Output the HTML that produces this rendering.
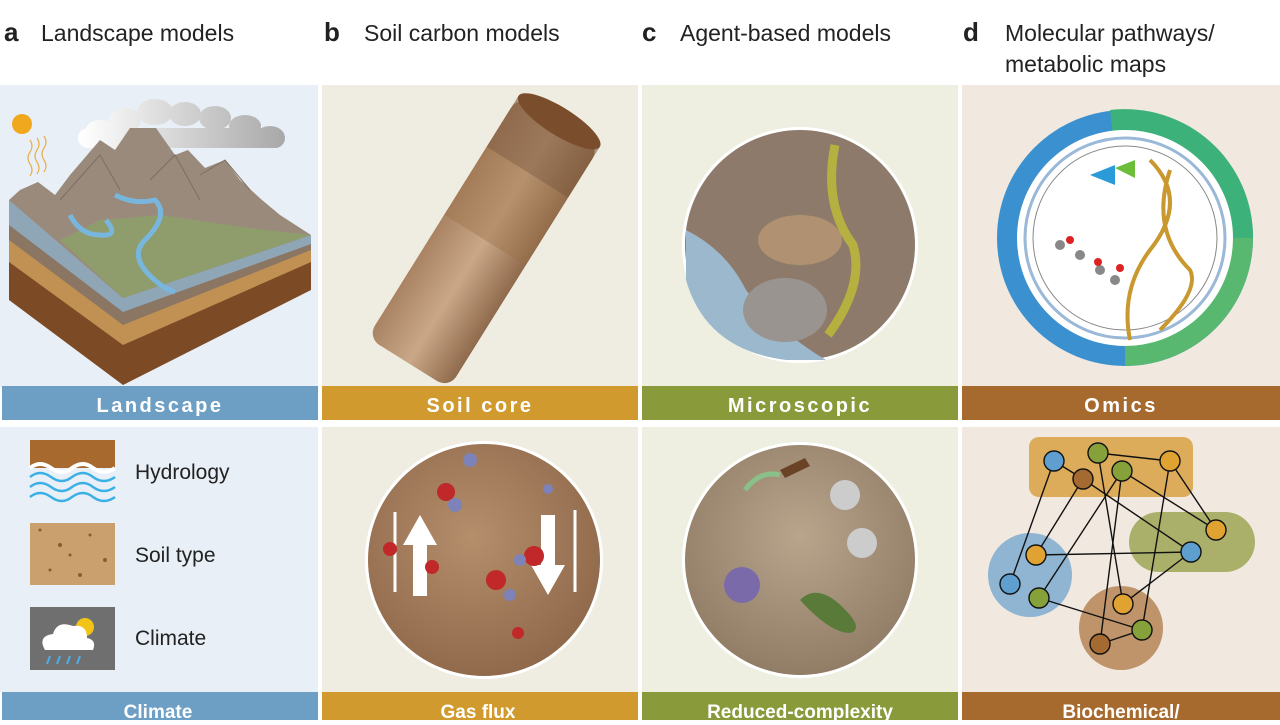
<!DOCTYPE html>
<html><head><meta charset="utf-8">
<style>
body{margin:0;width:1280px;height:720px;overflow:hidden;background:#fff;font-family:"Liberation Sans",sans-serif;}
</style></head><body>
<svg width="1280" height="720" viewBox="0 0 1280 720" xmlns="http://www.w3.org/2000/svg" font-family="Liberation Sans, sans-serif">
<defs>
<radialGradient id="soilg" cx="0.45" cy="0.4" r="0.7"><stop offset="0" stop-color="#b58e6c"/><stop offset="1" stop-color="#8a6446"/></radialGradient>
<radialGradient id="micg" cx="0.5" cy="0.4" r="0.7"><stop offset="0" stop-color="#b8a58c"/><stop offset="1" stop-color="#8b7660"/></radialGradient>
<linearGradient id="coreg" x1="0" y1="0" x2="1" y2="0"><stop offset="0" stop-color="#a98363"/><stop offset="0.5" stop-color="#c9a787"/><stop offset="1" stop-color="#8f6a4c"/></linearGradient>
<linearGradient id="cloudg" gradientUnits="userSpaceOnUse" x1="80" y1="0" x2="285" y2="0"><stop offset="0" stop-color="#fff"/><stop offset="1" stop-color="#a8a8a8"/></linearGradient>
</defs>
<rect x="0" y="85" width="318" height="302" fill="#e8eff6"/>
<rect x="322" y="85" width="316" height="302" fill="#efede2"/>
<rect x="642" y="85" width="316" height="302" fill="#eeeee1"/>
<rect x="962" y="85" width="318" height="302" fill="#f1e8df"/>
<rect x="0" y="427" width="318" height="265" fill="#e8eff6"/>
<rect x="322" y="427" width="316" height="265" fill="#efede2"/>
<rect x="642" y="427" width="316" height="265" fill="#eeeee1"/>
<rect x="962" y="427" width="318" height="265" fill="#f1e8df"/>
<rect x="2" y="386" width="316" height="34" fill="#6d9fc4"/>
<rect x="322" y="386" width="316" height="34" fill="#d19a2e"/>
<rect x="642" y="386" width="316" height="34" fill="#899a3a"/>
<rect x="962" y="386" width="318" height="34" fill="#a76a2e"/>
<rect x="2" y="692" width="316" height="28" fill="#6d9fc4"/>
<rect x="322" y="692" width="316" height="28" fill="#d19a2e"/>
<rect x="642" y="692" width="316" height="28" fill="#899a3a"/>
<rect x="962" y="692" width="318" height="28" fill="#a76a2e"/>
<g fill="#fff" font-weight="bold" font-size="20" text-anchor="middle" letter-spacing="2.5">
<text x="160" y="412">Landscape</text><text x="480" y="412">Soil core</text><text x="800" y="412">Microscopic</text><text x="1121" y="412">Omics</text>
</g>
<g fill="#fff" font-weight="bold" font-size="19" text-anchor="middle">
<text x="158" y="718">Climate</text><text x="478" y="718">Gas flux</text><text x="800" y="718">Reduced-complexity</text><text x="1121" y="718">Biochemical/</text>
</g>
<g font-size="23" fill="#222">
<text x="4" y="41" font-weight="bold" font-size="26">a</text><text x="41" y="41">Landscape models</text>
<text x="324" y="41" font-weight="bold" font-size="26">b</text><text x="364" y="41">Soil carbon models</text>
<text x="642" y="41" font-weight="bold" font-size="26">c</text><text x="680" y="41">Agent-based models</text>
<text x="963" y="41" font-weight="bold" font-size="26">d</text><text x="1005" y="41">Molecular pathways/</text><text x="1005" y="72">metabolic maps</text>
</g>
<circle cx="22" cy="124" r="10" fill="#f0a81e"/>
<path d="M30 140 q4 6 0 12 q-4 6 0 12 q4 6 0 12 M37 138 q4 6 0 12 q-4 6 0 12 q4 6 0 12 M44 136 q4 6 0 12 q-4 6 0 12 q4 6 0 12" stroke="#e8b050" fill="none" stroke-width="1.2"/>
<g fill="url(#cloudg)">
<rect x="78" y="128" width="207" height="20" rx="10"/>
<ellipse cx="100" cy="130" rx="14" ry="10"/><ellipse cx="125" cy="120" rx="16" ry="12"/><ellipse cx="155" cy="112" rx="18" ry="13"/>
<ellipse cx="185" cy="114" rx="16" ry="12"/><ellipse cx="215" cy="118" rx="16" ry="12"/><ellipse cx="245" cy="126" rx="16" ry="11"/><ellipse cx="270" cy="136" rx="14" ry="10"/>
</g>
<path d="M9 200 L123 298 L311 235 L311 290 L123 385 L9 300 Z" fill="#7c4a25"/>
<path d="M9 200 L123 298 L311 235 L311 262 L123 345 L9 262 Z" fill="#c19153"/>
<path d="M9 200 L123 298 L311 235 L311 250 L123 325 L9 240 Z" fill="#8b7664"/>
<path d="M9 200 L123 298 L311 235 L311 244 L123 312 L9 225 Z" fill="#8fa6b6"/>
<path d="M9 200 L20 190 L38 182 L55 195 L70 175 L100 140 L115 150 L130 128 L156 128 L175 155 L188 150 L205 168 L225 160 L240 180 L262 200 L280 215 L311 235 L123 298 Z" fill="#9a8a7c"/>
<path d="M60 240 L123 298 L311 235 L250 228 L160 215 L100 220 Z" fill="#8f9c6c"/>
<path d="M70 215 q10 20 30 20 q20 2 6 -15 M115 195 q20 10 40 5 q15 15 -10 40 q-20 20 20 48 l10 4" stroke="#78b6de" stroke-width="5" fill="none"/>
<path d="M60 200 L100 155 L120 190 M150 180 L175 155 L200 200 M200 175 L225 160 L250 190" stroke="#7e6e62" stroke-width="1" fill="none"/>
<g transform="rotate(32 485 240)">
<rect x="437" y="100" width="96" height="285" rx="14" fill="url(#coreg)"/>
<rect x="437" y="100" width="96" height="60" fill="#7e5a3e" opacity="0.6"/>
<rect x="437" y="160" width="96" height="80" fill="#9c7048" opacity="0.4"/>
<ellipse cx="485" cy="100" rx="48" ry="14" fill="#7a4e2c"/>
</g>
<circle cx="800" cy="245" r="118" fill="#fff"/>
<circle cx="800" cy="245" r="115" fill="#8d7a6a"/>
<path d="M686 230 q40 20 60 60 q30 40 80 70 l-40 0 q-80-10-100-80 z" fill="#9bb8cc"/>
<ellipse cx="800" cy="240" rx="42" ry="25" fill="#b09272"/>
<ellipse cx="785" cy="310" rx="42" ry="32" fill="#9a9490"/>
<path d="M835 145 q-12 60 18 100 q12 40 -25 90" stroke="#b5b040" stroke-width="9" fill="none"/>
<circle cx="1125" cy="238" r="128" fill="#3b90cf"/>
<path d="M1110 110 A128 128 0 0 1 1253 238 L1125 238 Z" fill="#3cb27a"/>
<path d="M1253 238 A128 128 0 0 1 1125 366 L1125 238 Z" fill="#58b870"/>
<circle cx="1125" cy="238" r="108" fill="#fff"/>
<circle cx="1125" cy="238" r="100" fill="none" stroke="#9ab8d8" stroke-width="3"/>
<circle cx="1125" cy="238" r="92" fill="#fff" stroke="#888" stroke-width="1"/>
<path d="M1150 160 q40 40 0 90 q-30 40 -20 90 M1170 170 q-20 60 20 100 q10 20 -30 60" stroke="#c9982e" stroke-width="4" fill="none"/>
<path d="M1090 175 l25 -10 l0 20 z" fill="#2a9bd8"/><path d="M1115 168 l20 -8 l0 18 z" fill="#6cbd3a"/>
<g fill="#888"><circle cx="1060" cy="245" r="5"/><circle cx="1080" cy="255" r="5"/><circle cx="1100" cy="270" r="5"/><circle cx="1115" cy="280" r="5"/></g>
<g fill="#d22"><circle cx="1070" cy="240" r="4"/><circle cx="1098" cy="262" r="4"/><circle cx="1120" cy="268" r="4"/></g>
<rect x="30" y="440" width="85" height="28" fill="#a8692e"/>
<path d="M30 468 q10-8 21 0 q11 8 21 0 q11-8 21 0 q11 8 22 0" fill="none" stroke="#fff" stroke-width="4"/>
<path d="M30 477 q10-8 21 0 q11 8 21 0 q11-8 21 0 q11 8 22 0 M30 487 q10-8 21 0 q11 8 21 0 q11-8 21 0 q11 8 22 0 M30 497 q10-8 21 0 q11 8 21 0 q11-8 21 0 q11 8 22 0" fill="none" stroke="#3ab0e6" stroke-width="2.5"/>
<rect x="30" y="523" width="85" height="62" fill="#c9a06e"/>
<g fill="#8a5a34"><circle cx="40" cy="530" r="1.5"/><circle cx="60" cy="545" r="2"/><circle cx="90" cy="535" r="1.5"/><circle cx="105" cy="560" r="2"/><circle cx="50" cy="570" r="1.5"/><circle cx="80" cy="575" r="2"/><circle cx="70" cy="555" r="1.5"/></g>
<rect x="30" y="607" width="85" height="63" fill="#6f6f6f"/>
<circle cx="85" cy="627" r="9" fill="#f2c417"/>
<path d="M45 650 q-8-14 8-16 q4-14 20-8 q14-2 14 12 q10 2 6 12 z" fill="#fff"/>
<path d="M50 656 l-3 8 M60 656 l-3 8 M70 656 l-3 8 M80 656 l-3 8" stroke="#4ab0e8" stroke-width="2"/>
<g font-size="21" fill="#222"><text x="135" y="479">Hydrology</text><text x="135" y="562">Soil type</text><text x="135" y="645">Climate</text></g>
<circle cx="484" cy="560" r="119" fill="#fff"/>
<circle cx="484" cy="560" r="116" fill="url(#soilg)"/>
<path d="M413 596 L413 545 L403 545 L420 515 L437 545 L427 545 L427 596 Z" fill="#fff"/>
<path d="M541 515 L555 515 L555 565 L565 565 L548 595 L531 565 L541 565 Z" fill="#fff"/>
<path d="M395 512 v80 M575 510 v82" stroke="#fff" stroke-width="3"/>
<g fill="#c0282a"><circle cx="446" cy="492" r="9"/><circle cx="534" cy="556" r="10"/><circle cx="496" cy="580" r="10"/><circle cx="432" cy="567" r="7"/><circle cx="390" cy="549" r="7"/><circle cx="518" cy="633" r="6"/></g>
<g fill="#7d82b8"><circle cx="470" cy="460" r="7"/><circle cx="455" cy="505" r="7"/><circle cx="548" cy="489" r="5"/><circle cx="510" cy="595" r="6"/><circle cx="520" cy="560" r="6"/></g>
<circle cx="800" cy="560" r="118" fill="#fff"/>
<circle cx="800" cy="560" r="115" fill="url(#micg)"/>
<path d="M780 470 l25-12 l5 8 l-25 12 z" fill="#6a4326"/>
<path d="M745 490 q15-20 35-15" stroke="#8ac08a" stroke-width="5" fill="none"/>
<circle cx="845" cy="495" r="15" fill="#ccc"/><circle cx="862" cy="543" r="15" fill="#ccc"/>
<circle cx="742" cy="585" r="18" fill="#7a6aaa"/>
<path d="M800 600 q20-20 50 15 q12 15 0 18 q-20 0 -50-33z" fill="#5a7a3a"/>
<rect x="1029" y="437" width="164" height="60" rx="10" fill="#dcac5a"/>
<rect x="1129" y="512" width="126" height="60" rx="30" fill="#aab06a"/>
<circle cx="1030" cy="575" r="42" fill="#8fb5d2"/>
<circle cx="1121" cy="628" r="42" fill="#bf946a"/>
<g stroke="#111" stroke-width="1.4">
<line x1="1054" y1="461" x2="1083" y2="479"/><line x1="1054" y1="461" x2="1010" y2="584"/>
<line x1="1098" y1="453" x2="1170" y2="461"/><line x1="1098" y1="453" x2="1123" y2="604"/>
<line x1="1083" y1="479" x2="1036" y2="555"/><line x1="1083" y1="479" x2="1191" y2="552"/>
<line x1="1122" y1="471" x2="1039" y2="598"/><line x1="1122" y1="471" x2="1100" y2="644"/>
<line x1="1122" y1="471" x2="1216" y2="530"/><line x1="1170" y1="461" x2="1216" y2="530"/>
<line x1="1170" y1="461" x2="1142" y2="630"/><line x1="1036" y1="555" x2="1191" y2="552"/>
<line x1="1191" y1="552" x2="1123" y2="604"/><line x1="1039" y1="598" x2="1142" y2="630"/>
<line x1="1100" y1="644" x2="1142" y2="630"/>
</g>
<g stroke="#111" stroke-width="1.4">
<circle cx="1054" cy="461" r="10" fill="#5f9fcf"/><circle cx="1098" cy="453" r="10" fill="#86a03a"/>
<circle cx="1083" cy="479" r="10" fill="#a46a32"/><circle cx="1122" cy="471" r="10" fill="#86a03a"/>
<circle cx="1170" cy="461" r="10" fill="#e0a230"/><circle cx="1216" cy="530" r="10" fill="#e0a230"/>
<circle cx="1191" cy="552" r="10" fill="#5f9fcf"/><circle cx="1036" cy="555" r="10" fill="#e0a230"/>
<circle cx="1010" cy="584" r="10" fill="#5f9fcf"/><circle cx="1039" cy="598" r="10" fill="#86a03a"/>
<circle cx="1123" cy="604" r="10" fill="#e0a230"/><circle cx="1142" cy="630" r="10" fill="#86a03a"/>
<circle cx="1100" cy="644" r="10" fill="#a46a32"/>
</g>
</svg>
</body></html>
